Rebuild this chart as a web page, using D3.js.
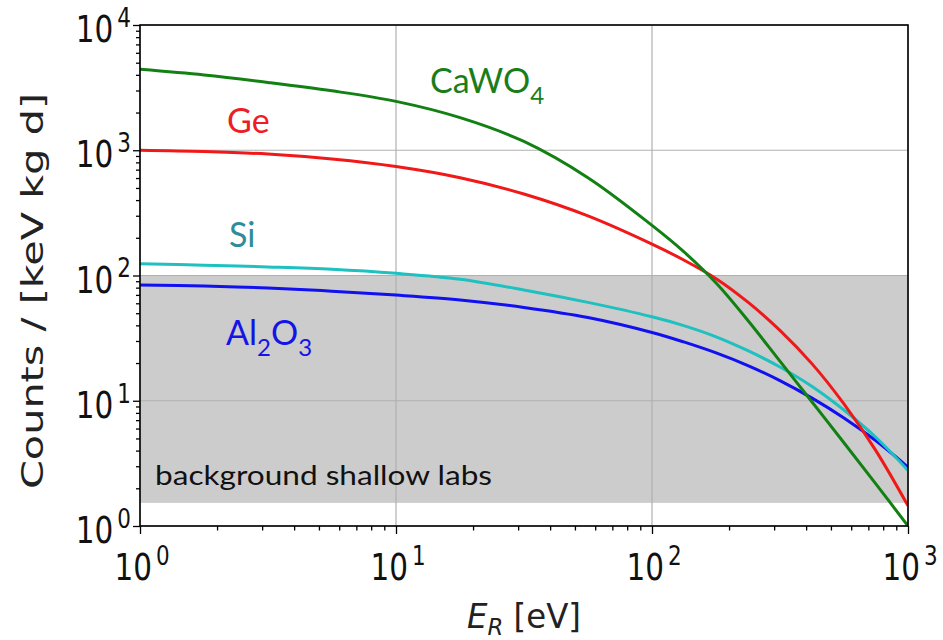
<!DOCTYPE html>
<html>
<head>
<meta charset="utf-8">
<script src="https://cdn.jsdelivr.net/npm/d3@7"></script>
<style>
  html, body { margin: 0; padding: 0; background: #fff; }
  svg { display: block; }
</style>
</head>
<body>
<svg id="chart" width="943" height="640"></svg>
<script>
// ---------------- data ----------------
const energies = [1, 1.78, 3.16, 5.62, 10, 17.8, 31.6, 56.2, 100, 133, 178, 237, 316, 422, 562, 750, 1000];
const countsCaWO4 = [4430, 3990, 3480, 2980, 2455, 1820, 1175, 603, 251, 155, 87.1, 43.7, 20.7, 9.77, 4.62, 2.16, 1.0];
const countsGe    = [1000, 977, 933, 851, 741, 603, 447, 299, 178, 133, 94.4, 61.3, 36.5, 19.7, 9.44, 3.98, 1.45];
const countsSi    = [124, 121, 117, 112, 104, 93.3, 76.7, 61.0, 46.8, 39.8, 32.4, 25.1, 18.6, 13.0, 8.43, 5.09, 2.78];
const countsAl2O3 = [83.9, 82.4, 79.4, 75.0, 69.8, 63.8, 55.6, 46.2, 35.1, 29.5, 24.1, 19.1, 14.5, 10.5, 7.29, 4.79, 2.95];
const backgroundBand = [1.53, 100];           // shaded "background shallow labs" range
const xDomain = [1, 1000];
const yDomain = [1, 10000];
const xTickExps = [0, 1, 2, 3];
const yTickExps = [0, 1, 2, 3, 4];
const seriesNames = ["Al2O3", "Si", "Ge", "CaWO4"];

// ---------------- layout ----------------
const svg = d3.select("#chart");
const L = 140, R = 908, T = 25, B = 526;
const x = d3.scaleLog().domain(xDomain).range([L, R]);
const y = d3.scaleLog().domain(yDomain).range([B, T]);

const colors = { CaWO4: "#138013", Ge: "#f01818", Si: "#1ec0c0", Al2O3: "#1010f0" };
const labelColors = { CaWO4: "#1a7d1a", Ge: "#ee1c24", Si: "#2f8c9c", Al2O3: "#1414e6" };
const seriesData = { CaWO4: countsCaWO4, Ge: countsGe, Si: countsSi, Al2O3: countsAl2O3 };

// background band
svg.append("rect")
  .attr("x", x(xDomain[0])).attr("width", x(xDomain[1]) - x(xDomain[0]))
  .attr("y", y(backgroundBand[1])).attr("height", y(backgroundBand[0]) - y(backgroundBand[1]))
  .attr("fill", "#cccccc");

// grid
const grid = svg.append("g").attr("stroke", "#b0b0b0").attr("stroke-width", 1.2);
xTickExps.forEach(e => {
  const v = Math.pow(10, e);
  grid.append("line").attr("x1", x(v)).attr("x2", x(v)).attr("y1", T).attr("y2", B);
});
yTickExps.forEach(e => {
  const v = Math.pow(10, e);
  grid.append("line").attr("x1", L).attr("x2", R).attr("y1", y(v)).attr("y2", y(v));
});

// curves
const line = d3.line()
  .x(d => x(d[0])).y(d => y(d[1]))
  .curve(d3.curveCatmullRom.alpha(0.5));
svg.append("clipPath").attr("id", "plotclip")
  .append("rect").attr("x", L).attr("y", T).attr("width", R - L).attr("height", B - T);
const curves = svg.append("g").attr("clip-path", "url(#plotclip)");
seriesNames.forEach(name => {
  curves.append("path")
    .datum(energies.map((e, i) => [e, seriesData[name][i]]))
    .attr("d", line)
    .attr("fill", "none")
    .attr("stroke", colors[name])
    .attr("stroke-width", 3);
});

// axes (ticks only; labels drawn separately with superscripts)
const minor = (lo, hi) => {
  const out = [];
  for (let e = lo; e < hi; e++) for (let m = 2; m <= 9; m++) out.push(m * Math.pow(10, e));
  return out;
};
const xMajor = xTickExps.map(e => Math.pow(10, e));
const yMajor = yTickExps.map(e => Math.pow(10, e));

function styleAxis(g) {
  g.select(".domain").remove();
  g.selectAll(".tick line").attr("stroke", "#000").attr("stroke-width", 1.3);
}
svg.append("g").attr("transform", `translate(0,${B})`)
  .call(d3.axisBottom(x).tickValues(xMajor).tickSize(8).tickFormat("")).call(styleAxis);
svg.append("g").attr("transform", `translate(0,${B})`)
  .call(d3.axisBottom(x).tickValues(minor(0, 3)).tickSize(4.5).tickFormat("")).call(styleAxis);
svg.append("g").attr("transform", `translate(${L},0)`)
  .call(d3.axisLeft(y).tickValues(yMajor).tickSize(7).tickFormat("")).call(styleAxis);
svg.append("g").attr("transform", `translate(${L},0)`)
  .call(d3.axisLeft(y).tickValues(minor(0, 4)).tickSize(4).tickFormat("")).call(styleAxis);

// frame
svg.append("rect").attr("x", L).attr("y", T).attr("width", R - L).attr("height", B - T)
  .attr("fill", "none").attr("stroke", "#000").attr("stroke-width", 1.6);

// tick labels
const tickFont = "'DejaVu Sans', sans-serif";
function powLabel(px, py, exp, anchor) {
  const g = svg.append("g").attr("transform", `translate(${px},${py}) scale(1,1.27)`);
  const t = g.append("text").attr("text-anchor", anchor)
    .attr("font-family", tickFont).attr("font-size", 29.5).attr("fill", "#111");
  t.append("tspan").text("10");
  t.append("tspan").attr("font-size", 21.5).attr("dx", 4).attr("dy", -12).text(String(exp));
}
xTickExps.forEach(e => powLabel(x(Math.pow(10, e)) + 2, 580, e, "middle"));
yTickExps.forEach(e => powLabel(131, y(Math.pow(10, e)) + 17, e, "end"));

// axis titles
svg.append("g").attr("transform", "translate(43,291) rotate(-90) scale(1.38,1)")
  .append("text").attr("text-anchor", "middle")
  .attr("font-family", tickFont).attr("font-size", 30).attr("fill", "#222")
  .text("Counts / [keV kg d]");

const xt = svg.append("g").attr("transform", "translate(524,628) scale(1.08,1.1)")
  .append("text").attr("text-anchor", "middle")
  .attr("font-family", tickFont).attr("font-size", 30).attr("fill", "#222");
xt.append("tspan").attr("font-style", "italic").text("E");
xt.append("tspan").attr("font-style", "italic").attr("font-size", 21).attr("dy", 6).text("R");
xt.append("tspan").attr("dy", -6).text(" [eV]");

// series annotations
const annFont = "Lato, 'Open Sans', sans-serif";
function chemLabel(px, py, parts, color) {
  const t = svg.append("text").attr("x", px).attr("y", py)
    .attr("font-family", annFont).attr("font-size", 34).attr("fill", color);
  let prevSub = false;
  parts.forEach(p => {
    const isSub = /^[0-9]$/.test(p);
    const ts = t.append("tspan").text(p);
    if (isSub) { ts.attr("font-size", 24).attr("dy", 11); prevSub = true; }
    else if (prevSub) { ts.attr("dy", -11); prevSub = false; }
  });
}
chemLabel(430, 93, ["CaWO", "4"], labelColors.CaWO4);
chemLabel(227, 133, ["Ge"], labelColors.Ge);
chemLabel(229, 247, ["Si"], labelColors.Si);
chemLabel(226, 345, ["Al", "2", "O", "3"], labelColors.Al2O3);

svg.append("text").attr("x", 155).attr("y", 485)
  .attr("font-family", annFont).attr("font-size", 27).attr("fill", "#111")
  .attr("textLength", 337).attr("lengthAdjust", "spacingAndGlyphs")
  .text("background shallow labs");
</script>
</body>
</html>
